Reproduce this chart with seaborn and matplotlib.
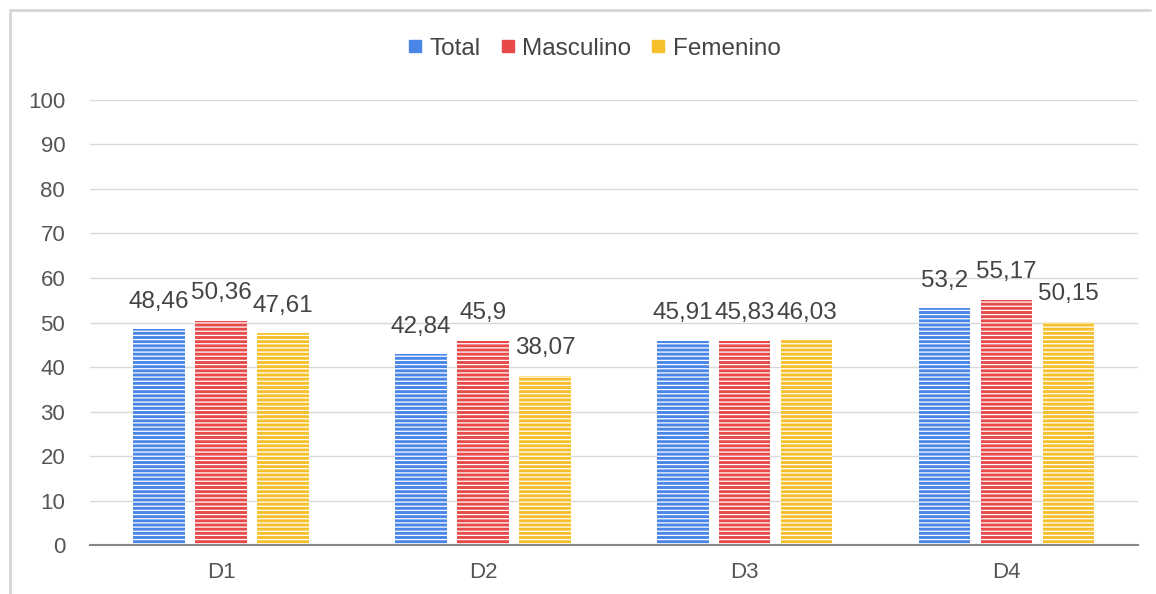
import matplotlib
matplotlib.use("Agg")
import matplotlib.pyplot as plt
import seaborn as sns
import pandas as pd
from matplotlib.lines import Line2D

categories = ["D1", "D2", "D3", "D4"]
series = ["Total", "Masculino", "Femenino"]
total = [48.46, 42.84, 45.91, 53.2]
masculino = [50.36, 45.9, 45.83, 55.17]
femenino = [47.61, 38.07, 46.03, 50.15]
labels_total = ["48,46", "42,84", "45,91", "53,2"]
labels_masc = ["50,36", "45,9", "45,83", "55,17"]
labels_fem = ["47,61", "38,07", "46,03", "50,15"]
yticks = [0, 10, 20, 30, 40, 50, 60, 70, 80, 90, 100]

colors = ["#4a86e8", "#e84a4a", "#f6c02c"]

df = pd.DataFrame({
    "cat": categories * 3,
    "serie": [s for s in series for _ in categories],
    "val": total + masculino + femenino,
})

sns.set_theme(style="white")
plt.rcParams["font.family"] = ["Liberation Sans", "DejaVu Sans"]
plt.rcParams["hatch.color"] = (1, 1, 1, 0.5)
plt.rcParams["hatch.linewidth"] = 0.9

fig = plt.figure(figsize=(11.56, 5.94), dpi=100)
ax = fig.add_axes([0.078, 0.082, 0.906, 0.75])

sns.barplot(data=df, x="cat", y="val", hue="serie", order=categories,
            hue_order=series, palette=colors, width=0.71, gap=0.17,
            saturation=1, ax=ax, legend=False, errorbar=None)

for p in ax.patches:
    p.set_hatch("----")
    p.set_linewidth(0)

label_lists = [labels_total, labels_masc, labels_fem]
for cont, labs in zip(ax.containers, label_lists):
    ax.bar_label(cont, labels=labs, padding=12, fontsize=17.5, color="#444444")

ax.set_ylim(0, 100)
ax.set_yticks(yticks)
ax.set_yticklabels([str(v) for v in yticks], fontsize=16, color="#555555")
ax.tick_params(axis="x", labelsize=16, colors="#555555", pad=12, length=0)
ax.tick_params(axis="y", length=0, pad=18)
ax.set_xlabel("")
ax.set_ylabel("")
ax.yaxis.grid(True, color="#d9d9d9", linewidth=1)
ax.set_axisbelow(True)
for s in ["top", "right", "left"]:
    ax.spines[s].set_visible(False)
ax.spines["bottom"].set_color("#888888")
ax.spines["bottom"].set_linewidth(1.5)

handles = [Line2D([0], [0], marker="s", linestyle="", markersize=9,
                  markerfacecolor=c, markeredgecolor=c) for c in colors]
fig.legend(handles, series, loc="center", bbox_to_anchor=(0.511, 0.918), ncol=3,
           frameon=False, fontsize=17.5, handletextpad=0.0, columnspacing=0.5,
           handlelength=1.2, labelcolor="#444444")

fig.add_artist(Line2D([0.009, 0.995], [1 - 10 / 594, 1 - 10 / 594],
                      transform=fig.transFigure, color="#d6d6d6", linewidth=2))
fig.add_artist(Line2D([10 / 1156, 10 / 1156], [1 - 10 / 594, 0.0],
                      transform=fig.transFigure, color="#d6d6d6", linewidth=2))

fig.savefig("out.png", dpi=100)
